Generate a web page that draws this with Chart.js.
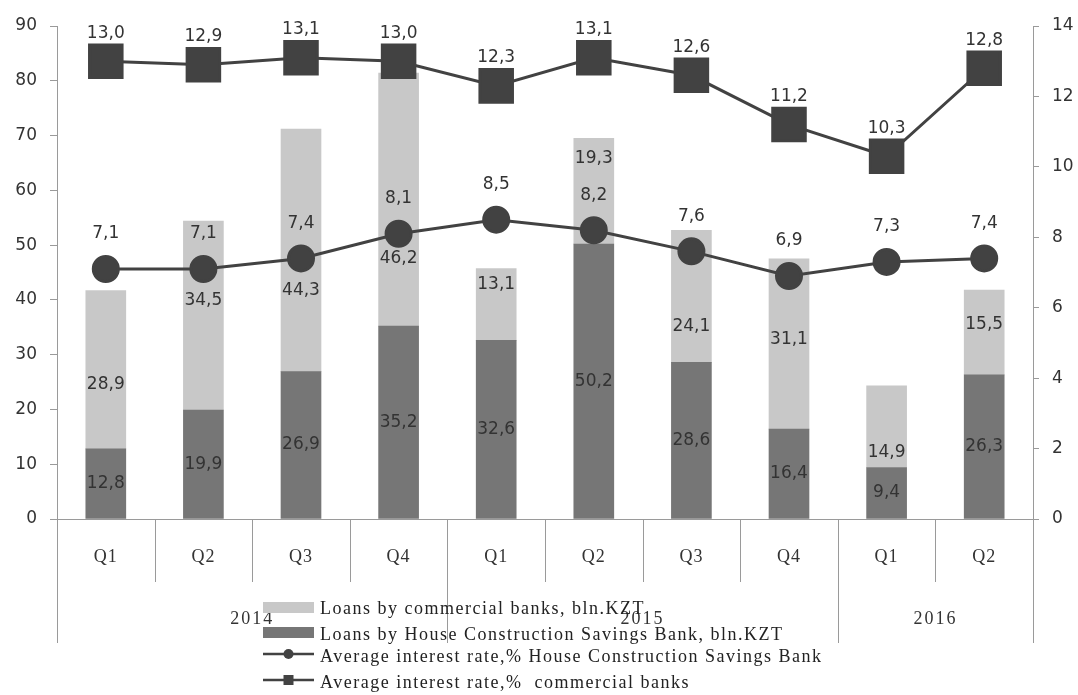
<!DOCTYPE html>
<html>
<head>
<meta charset="utf-8">
<script src="https://cdn.jsdelivr.net/npm/chart.js@4.4.0/dist/chart.umd.min.js"></script>
<style>
  html, body { margin: 0; padding: 0; background: #fff; }
</style>
</head>
<body>
<canvas id="chart" width="1078" height="695"></canvas>
<script>
// Data
const quarters = ['Q1', 'Q2', 'Q3', 'Q4', 'Q1', 'Q2', 'Q3', 'Q4', 'Q1', 'Q2'];
const years = ['2014', '2015', '2016'];
const yearSpans = [4, 4, 2];
const hcsbLoans = [12.8, 19.9, 26.9, 35.2, 32.6, 50.2, 28.6, 16.4, 9.4, 26.3];
const commLoans = [28.9, 34.5, 44.3, 46.2, 13.1, 19.3, 24.1, 31.1, 14.9, 15.5];
const hcsbRate = [7.1, 7.1, 7.4, 8.1, 8.5, 8.2, 7.6, 6.9, 7.3, 7.4];
const commRate = [13.0, 12.9, 13.1, 13.0, 12.3, 13.1, 12.6, 11.2, 10.3, 12.8];
const legendNames = [
    'Loans by commercial banks, bln.KZT',
    'Loans by House Construction Savings Bank, bln.KZT',
    'Average interest rate,% House Construction Savings Bank',
    'Average interest rate,%  commercial banks'
];

// label nudges (px) for the light segment labels, as placed in the original
const lightLabelShift = [15, -15, 40, 59, -20, -33, 30, -4, 26, -8];

const LIGHT = '#c8c8c8';
const DARK = '#767676';
const LINE = '#424242';
const AXIS = '#9a9a9a';
const sansFont = '"DejaVu Sans", Verdana, sans-serif';
const serifFont = '"Liberation Serif", "Times New Roman", serif';

const fmt = v => v.toFixed(1).replace('.', ',');

// value labels on bars and points
const valueLabels = {
    id: 'valueLabels',
    afterDatasetsDraw(chart) {
        const ctx = chart.ctx;
        ctx.save();
        ctx.fillStyle = '#333';
        ctx.font = '17px ' + sansFont;
        ctx.textAlign = 'center';
        ctx.textBaseline = 'middle';

        chart.getDatasetMeta(0).data.forEach((bar, i) => {
            ctx.fillText(fmt(hcsbLoans[i]), bar.x, (bar.y + bar.base) / 2);
        });
        chart.getDatasetMeta(1).data.forEach((bar, i) => {
            ctx.fillText(fmt(commLoans[i]), bar.x, (bar.y + bar.base) / 2 + lightLabelShift[i]);
        });
        chart.getDatasetMeta(2).data.forEach((pt, i) => {
            ctx.fillText(fmt(hcsbRate[i]), pt.x, pt.y - 35);
        });
        chart.getDatasetMeta(3).data.forEach((pt, i) => {
            ctx.fillText(fmt(commRate[i]), pt.x, pt.y - 28);
        });
        ctx.restore();
    }
};

// two level category axis + legend
const bottomAxis = {
    id: 'bottomAxis',
    afterDraw(chart) {
        const ctx = chart.ctx;
        const area = chart.chartArea;
        const x = chart.scales.x;
        const step = (area.right - area.left) / quarters.length;
        const y0 = area.bottom;

        ctx.save();
        ctx.strokeStyle = AXIS;
        ctx.lineWidth = 1;

        // axis line
        ctx.beginPath();
        ctx.moveTo(area.left, y0 + 0.5);
        ctx.lineTo(area.right, y0 + 0.5);
        ctx.stroke();

        // quarter dividers
        for (let i = 0; i <= quarters.length; i++) {
            const px = Math.round(area.left + i * step) + 0.5;
            ctx.beginPath();
            ctx.moveTo(px, y0);
            ctx.lineTo(px, y0 + 63);
            ctx.stroke();
        }

        // quarter labels
        ctx.fillStyle = '#333';
        ctx.font = '18px ' + serifFont;
        ctx.textAlign = 'center';
        ctx.textBaseline = 'middle';
        ctx.letterSpacing = '1px';
        quarters.forEach((q, i) => ctx.fillText(q, x.getPixelForValue(i), y0 + 38));

        // year dividers and labels
        let start = 0;
        const bounds = [0];
        yearSpans.forEach(n => { start += n; bounds.push(start); });
        bounds.forEach(b => {
            const px = Math.round(area.left + b * step) + 0.5;
            ctx.beginPath();
            ctx.moveTo(px, y0 + 63);
            ctx.lineTo(px, y0 + 124);
            ctx.stroke();
        });
        ctx.letterSpacing = '2px';
        years.forEach((yr, k) => {
            const cx = area.left + (bounds[k] + bounds[k + 1]) / 2 * step;
            ctx.fillText(yr, cx, y0 + 100);
        });

        // legend
        const lx = 263, lw = 51, tx = 320;
        const rows = [609, 635, 657, 683];
        ctx.fillStyle = LIGHT;
        ctx.fillRect(lx, 602, lw, 11);
        ctx.fillStyle = DARK;
        ctx.fillRect(lx, 627, lw, 11);

        ctx.strokeStyle = LINE;
        ctx.lineWidth = 2.5;
        [2, 3].forEach(r => {
            ctx.beginPath();
            ctx.moveTo(lx, rows[r] - 3);
            ctx.lineTo(lx + lw, rows[r] - 3);
            ctx.stroke();
        });
        ctx.fillStyle = LINE;
        ctx.beginPath();
        ctx.arc(lx + lw / 2, rows[2] - 3, 5, 0, Math.PI * 2);
        ctx.fill();
        ctx.fillRect(lx + lw / 2 - 5, rows[3] - 8, 10, 10);

        ctx.textAlign = 'left';
        ctx.fillStyle = '#222';
        ctx.font = '18px ' + serifFont;
        ctx.letterSpacing = '1.5px';
        legendNames.forEach((name, i) => ctx.fillText(name, tx, rows[i]));
        ctx.restore();
    }
};

const ctx = document.getElementById('chart');

new Chart(ctx, {
    type: 'bar',
    data: {
        labels: quarters,
        datasets: [{
            label: legendNames[1],
            data: hcsbLoans,
            backgroundColor: DARK,
            stack: 'loans',
            yAxisID: 'y',
            order: 2
        }, {
            label: legendNames[0],
            data: commLoans,
            backgroundColor: LIGHT,
            stack: 'loans',
            yAxisID: 'y',
            order: 2
        }, {
            type: 'line',
            label: legendNames[2],
            data: hcsbRate,
            borderColor: LINE,
            backgroundColor: LINE,
            borderWidth: 3,
            pointStyle: 'circle',
            pointRadius: 12.5,
            pointHoverRadius: 12.5,
            yAxisID: 'y1',
            order: 1
        }, {
            type: 'line',
            label: legendNames[3],
            data: commRate,
            borderColor: LINE,
            backgroundColor: LINE,
            borderWidth: 3,
            pointStyle: 'rect',
            pointRadius: 23,
            pointHoverRadius: 23,
            yAxisID: 'y1',
            order: 0
        }]
    },
    options: {
        responsive: false,
        animation: false,
        layout: { padding: { top: 25, bottom: 176, left: 0, right: 0 } },
        datasets: {
            bar: { barThickness: 40 }
        },
        plugins: {
            legend: { display: false },
            tooltip: { enabled: false }
        },
        scales: {
            x: {
                display: false,
                stacked: true,
                offset: true
            },
            y: {
                position: 'left',
                stacked: true,
                min: 0,
                max: 90,
                ticks: { stepSize: 10, color: '#333', font: { family: sansFont, size: 17 }, padding: 13 },
                grid: { drawOnChartArea: false, tickLength: 7, color: AXIS },
                border: { color: AXIS },
                afterFit(scale) { scale.width = 57; }
            },
            y1: {
                position: 'right',
                min: 0,
                max: 14,
                ticks: { stepSize: 2, color: '#333', font: { family: sansFont, size: 17 }, padding: 13 },
                grid: { drawOnChartArea: false, tickLength: 6, color: AXIS },
                border: { color: AXIS },
                afterFit(scale) { scale.width = 45; }
            }
        }
    },
    plugins: [valueLabels, bottomAxis]
});
</script>
</body>
</html>
